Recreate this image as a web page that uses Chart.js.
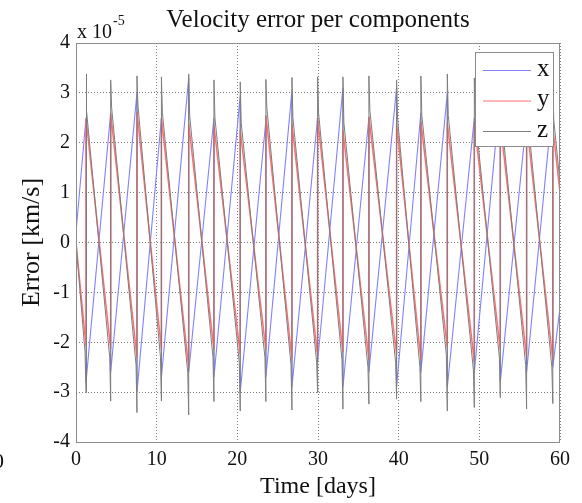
<!DOCTYPE html>
<html>
<head>
<meta charset="utf-8">
<script src="https://cdn.jsdelivr.net/npm/chart.js@4"></script>
<style>
  body { margin: 0; background: #fff; }
  #wrap { width: 582px; height: 503px; }
</style>
</head>
<body>
<div id="wrap"><canvas id="velChart" width="582" height="503"></canvas></div>
<script>
// instants (days) where the three components jump
const jumpDays = [1.24, 4.30, 7.56, 10.59, 13.97, 17.10, 20.36, 23.54, 26.77, 29.95, 33.09, 36.31, 39.74, 42.75, 46.03, 49.38, 52.60, 55.86, 59.11];

// x component (rising ramps), values x 1e-5 km/s
const xPeak = [2.5, 2.6, 3.0, 2.5, 3.3, 2.5, 2.95, 2.45, 3.05, 2.5, 3.1, 2.5, 3.1, 2.6, 3.0, 2.5, 3.0, 2.5, 2.85];
const xTrough = [-2.8, -2.6, -3.0, -2.7, -2.6, -2.7, -3.0, -2.7, -2.9, -2.4, -2.9, -2.6, -2.9, -2.6, -2.9, -2.6, -2.8, -2.6, -2.5];
const xStart = 0.2;
const xEnd = -1.3;

// y component (falling ramps)
const yTrough = [-2.07, -2.13, -2.3, -2.15, -2.5, -2.15, -2.24, -2.15, -2.33, -2.27, -2.2, -2.35, -2.25, -2.35, -2.1, -2.4, -2.15, -2.3, -2.35];
const yPeak = [2.49, 2.59, 2.62, 2.49, 2.39, 2.35, 2.25, 2.55, 2.37, 2.49, 2.25, 2.52, 2.39, 2.42, 2.4, 2.4, 2.4, 2.4, 2.3];
const yStart = 0;
const yEnd = 1.0;

// z component (falling ramps with spikes at the jumps)
const zLow = [-2.2, -2.3, -2.45, -2.3, -2.6, -2.3, -2.4, -2.3, -2.45, -2.4, -2.35, -2.5, -2.4, -2.5, -2.25, -2.55, -2.3, -2.45, -2.5];
const zTrough = [-3.01, -3.18, -3.41, -3.18, -3.46, -3.19, -3.38, -3.19, -3.36, -3.01, -3.34, -3.24, -3.14, -3.19, -3.38, -3.31, -3.11, -3.34, -3.23];
const zPeak = [3.38, 3.26, 3.34, 3.32, 3.38, 3.26, 3.22, 3.27, 3.31, 3.32, 3.32, 3.34, 3.26, 3.34, 3.38, 3.3, 3.3, 3.3, 3.2];
const zHigh = [2.65, 2.7, 2.75, 2.6, 2.55, 2.5, 2.4, 2.7, 2.5, 2.6, 2.4, 2.65, 2.5, 2.55, 2.55, 2.55, 2.55, 2.55, 2.45];
const zStart = 0;
const zEnd = 1.2;
const spikeWidth = 0.12;

const xTicks = [0, 10, 20, 30, 40, 50, 60];
const yTicks = [-4, -3, -2, -1, 0, 1, 2, 3, 4];

const seriesNames = ["x", "y", "z"];
const seriesColors = ["#8282ff", "#ff7070", "#7d7d7d"];
const seriesWidths = [1.1, 1.5, 1.0];
// lower order is drawn on top: gray over red over blue
const seriesOrder = [3, 2, 1];

const SERIF = "'Liberation Serif', 'DejaVu Serif', serif";

function rampPoints(start, before, after, end) {
  const pts = [{ x: 0, y: start }];
  jumpDays.forEach((t, i) => {
    pts.push({ x: t, y: before[i] });
    pts.push({ x: t, y: after[i] });
  });
  pts.push({ x: 60, y: end });
  return pts;
}

function spikePoints() {
  const pts = [{ x: 0, y: zStart }];
  jumpDays.forEach((t, i) => {
    pts.push({ x: t - spikeWidth, y: zLow[i] });
    pts.push({ x: t, y: zTrough[i] });
    pts.push({ x: t, y: zPeak[i] });
    pts.push({ x: t + spikeWidth, y: zHigh[i] });
  });
  pts.push({ x: 60, y: zEnd });
  return pts;
}

const decorPlugin = {
  id: "decor",
  afterDraw(chart) {
    const { ctx, chartArea } = chart;
    const a = chartArea;
    ctx.save();
    // axes box
    ctx.setLineDash([]);
    ctx.strokeStyle = "#8c8c8c";
    ctx.lineWidth = 1;
    ctx.strokeRect(Math.round(a.left) + 0.5, Math.round(a.top) + 0.5,
      Math.round(a.right - a.left) - 1, Math.round(a.bottom - a.top));

    // title
    ctx.fillStyle = "#111";
    ctx.textAlign = "center";
    ctx.textBaseline = "alphabetic";
    ctx.font = "25px " + SERIF;
    ctx.fillText("Velocity error per components", 318, 27);

    // exponent
    ctx.textAlign = "left";
    ctx.font = "20px " + SERIF;
    ctx.fillText("x 10", 77, 38);
    ctx.font = "14px " + SERIF;
    ctx.fillText("-5", 113, 25);

    // stray glyph at the left border
    ctx.font = "22px " + SERIF;
    ctx.textAlign = "right";
    ctx.fillText("0", 4, 468);

    // legend
    const lx = 475, ly = 52, lw = 78, lh = 94;
    ctx.fillStyle = "#fff";
    ctx.fillRect(lx, ly, lw, lh);
    ctx.strokeStyle = "#8c8c8c";
    ctx.strokeRect(lx + 0.5, ly + 0.5, lw, lh);
    ctx.font = "25px " + SERIF;
    ctx.textAlign = "left";
    ctx.textBaseline = "middle";
    seriesNames.forEach((name, i) => {
      const yy = 70 + i * 30.5;
      ctx.strokeStyle = seriesColors[i];
      ctx.lineWidth = 1.1;
      ctx.beginPath();
      ctx.moveTo(483, yy + 0.5);
      ctx.lineTo(531, yy + 0.5);
      ctx.stroke();
      ctx.fillStyle = "#111";
      ctx.fillText(name, 537, yy - 1);
    });
    ctx.restore();
  }
};

const lineData = [
  rampPoints(xStart, xPeak, xTrough, xEnd),
  rampPoints(yStart, yTrough, yPeak, yEnd),
  spikePoints()
];

const datasets = seriesNames.map((name, i) => ({
  label: name,
  data: lineData[i],
  borderColor: seriesColors[i],
  borderWidth: seriesWidths[i],
  pointRadius: 0,
  tension: 0,
  fill: false,
  order: seriesOrder[i]
}));

const gridOpts = {
  color: "rgba(70,70,70,0.7)",
  lineWidth: 1,
  drawTicks: false
};

new Chart(document.getElementById("velChart"), {
  type: "line",
  data: { datasets },
  options: {
    responsive: false,
    animation: false,
    events: [],
    layout: { padding: { left: 0, right: 22, top: 43, bottom: 0 } },
    plugins: {
      legend: { display: false },
      title: { display: false },
      tooltip: { enabled: false }
    },
    scales: {
      x: {
        type: "linear",
        min: 0,
        max: 60,
        afterFit: (scale) => { scale.height = 61; },
        afterBuildTicks: (scale) => { scale.ticks = xTicks.map((v) => ({ value: v })); },
        grid: gridOpts,
        border: { display: false, dash: [1, 2] },
        ticks: {
          padding: 6,
          color: "#111",
          maxRotation: 0,
          font: { family: SERIF, size: 20 }
        },
        title: {
          display: true,
          text: "Time [days]",
          color: "#111",
          font: { family: SERIF, size: 24 },
          padding: { top: 0, bottom: 2 }
        }
      },
      y: {
        type: "linear",
        min: -4,
        max: 4,
        afterFit: (scale) => { scale.width = 76; },
        afterBuildTicks: (scale) => { scale.ticks = yTicks.map((v) => ({ value: v })); },
        grid: gridOpts,
        border: { display: false, dash: [1, 2] },
        ticks: {
          padding: 6,
          color: "#111",
          font: { family: SERIF, size: 20 }
        },
        title: {
          display: true,
          text: "Error [km/s]",
          color: "#111",
          font: { family: SERIF, size: 26 },
          padding: { top: 17, bottom: 0 }
        }
      }
    }
  },
  plugins: [decorPlugin]
});
</script>
</body>
</html>
